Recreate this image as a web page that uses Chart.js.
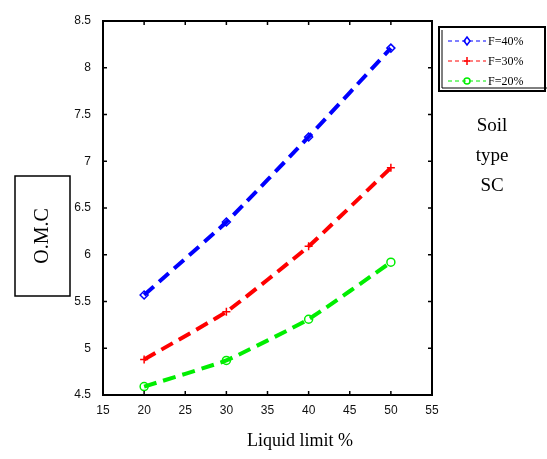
<!DOCTYPE html>
<html>
<head>
<meta charset="utf-8">
<script src="https://cdn.jsdelivr.net/npm/chart.js@4.4.0/dist/chart.umd.min.js"></script>
<style>
  html, body { margin: 0; padding: 0; background: #fff; }
  #wrap { width: 547px; height: 459px; position: relative; }
</style>
</head>
<body>
<div id="wrap"><canvas id="grafico"></canvas></div>
<script>
const liquidLimit = [20, 30, 40, 50];
const omcF40 = [5.57, 6.35, 7.26, 8.21];
const omcF30 = [4.88, 5.39, 6.09, 6.93];
const omcF20 = [4.59, 4.87, 5.31, 5.92];
const xTicks = [15, 20, 25, 30, 35, 40, 45, 50, 55];
const yTicks = [4.5, 5, 5.5, 6, 6.5, 7, 7.5, 8, 8.5];
const seriesNames = ['F=40%', 'F=30%', 'F=20%'];

const toPoints = vals => vals.map((v, i) => ({ x: liquidLimit[i], y: v }));

// frame, inner ticks, boxed labels, custom legend
const decor = {
    id: 'decor',
    afterDraw(chart) {
        const c = chart.ctx;
        const a = chart.chartArea;
        const sx = chart.scales.x, sy = chart.scales.y;
        c.save();
        c.strokeStyle = '#000';
        c.lineWidth = 2;
        c.strokeRect(a.left, a.top, a.right - a.left, a.bottom - a.top);
        c.lineWidth = 1.5;
        xTicks.forEach(t => {
            const px = sx.getPixelForValue(t);
            c.beginPath(); c.moveTo(px, a.bottom); c.lineTo(px, a.bottom - 4); c.stroke();
            c.beginPath(); c.moveTo(px, a.top); c.lineTo(px, a.top + 4); c.stroke();
        });
        yTicks.forEach(t => {
            const py = sy.getPixelForValue(t);
            c.beginPath(); c.moveTo(a.left, py); c.lineTo(a.left + 4, py); c.stroke();
            c.beginPath(); c.moveTo(a.right, py); c.lineTo(a.right - 4, py); c.stroke();
        });

        // O.M.C box
        c.lineWidth = 1.5;
        c.strokeRect(15, 176, 55, 120);
        c.fillStyle = '#000';
        c.font = '20px "Liberation Serif"';
        c.textAlign = 'center';
        c.textBaseline = 'middle';
        c.save();
        c.translate(43, 236);
        c.rotate(-Math.PI / 2);
        c.fillText('O.M.C', 0, 0);
        c.restore();

        // x title
        c.font = '18px "Liberation Serif"';
        c.fillText('Liquid limit %', 300, 441);

        // Soil type SC
        c.font = '19px "Liberation Serif"';
        c.fillText('Soil', 492, 126);
        c.fillText('type', 492, 156);
        c.fillText('SC', 492, 186);

        // legend
        c.lineWidth = 2;
        c.strokeRect(439, 27, 106, 64);
        c.lineWidth = 1;
        c.beginPath(); c.moveTo(442, 30); c.lineTo(442, 88); c.lineTo(547, 88); c.stroke();
        chart.data.datasets.forEach((ds, i) => {
            const y = 41 + i * 20;
            c.strokeStyle = ds.borderColor;
            c.lineWidth = 1;
            c.setLineDash([4, 3]);
            c.beginPath(); c.moveTo(448, y); c.lineTo(486, y); c.stroke();
            c.setLineDash([]);
            c.lineWidth = 1.5;
            const mx = 467;
            c.beginPath();
            if (i === 0) {
                c.moveTo(mx, y - 4); c.lineTo(mx + 3, y); c.lineTo(mx, y + 4); c.lineTo(mx - 3, y); c.closePath();
                c.stroke();
            } else if (i === 1) {
                c.moveTo(mx - 3, y); c.lineTo(mx + 3, y); c.moveTo(mx, y - 4); c.lineTo(mx, y + 4);
                c.stroke();
            } else {
                c.arc(mx, y, 3, 0, Math.PI * 2); c.stroke();
            }
            c.fillStyle = '#000';
            c.font = '12px "Liberation Serif"';
            c.textAlign = 'left';
            c.fillText(seriesNames[i], 488, y + 1);
        });
        c.restore();
    }
};

const ctx = document.getElementById('grafico').getContext('2d');
const mkSet = (label, vals, color, style) => ({
    label: label,
    data: toPoints(vals),
    borderColor: color,
    backgroundColor: 'transparent',
    borderWidth: 4,
    borderDash: [13, 7],
    tension: 0.12,
    pointStyle: style,
    pointRadius: 4,
    pointBorderWidth: 1.5,
    pointBorderColor: color,
    pointBackgroundColor: 'transparent'
});

new Chart(ctx, {
    type: 'line',
    data: {
        datasets: [
            mkSet(seriesNames[0], omcF40, '#0000ff', 'rectRot'),
            mkSet(seriesNames[1], omcF30, '#ff0000', 'cross'),
            mkSet(seriesNames[2], omcF20, '#00ee00', 'circle')
        ]
    },
    options: {
        responsive: true,
        maintainAspectRatio: false,
        animation: false,
        layout: { padding: { left: 72, right: 115, top: 21, bottom: 44 } },
        plugins: { legend: { display: false }, tooltip: { enabled: false } },
        scales: {
            x: {
                type: 'linear',
                min: 15, max: 55,
                afterBuildTicks: s => { s.ticks = xTicks.map(v => ({ value: v })); },
                afterFit: s => { s.height = 20; },
                grid: { display: false },
                border: { display: false },
                ticks: { color: '#111', font: { family: 'Liberation Sans', size: 12 }, padding: 0 }
            },
            y: {
                min: 4.5, max: 8.5,
                afterBuildTicks: s => { s.ticks = yTicks.map(v => ({ value: v })); },
                afterFit: s => { s.width = 31; },
                grid: { display: false },
                border: { display: false },
                ticks: {
                    color: '#111',
                    font: { family: 'Liberation Sans', size: 12 },
                    padding: 4,
                    callback: v => String(v)
                }
            }
        }
    },
    plugins: [decor]
});
</script>
</body>
</html>
